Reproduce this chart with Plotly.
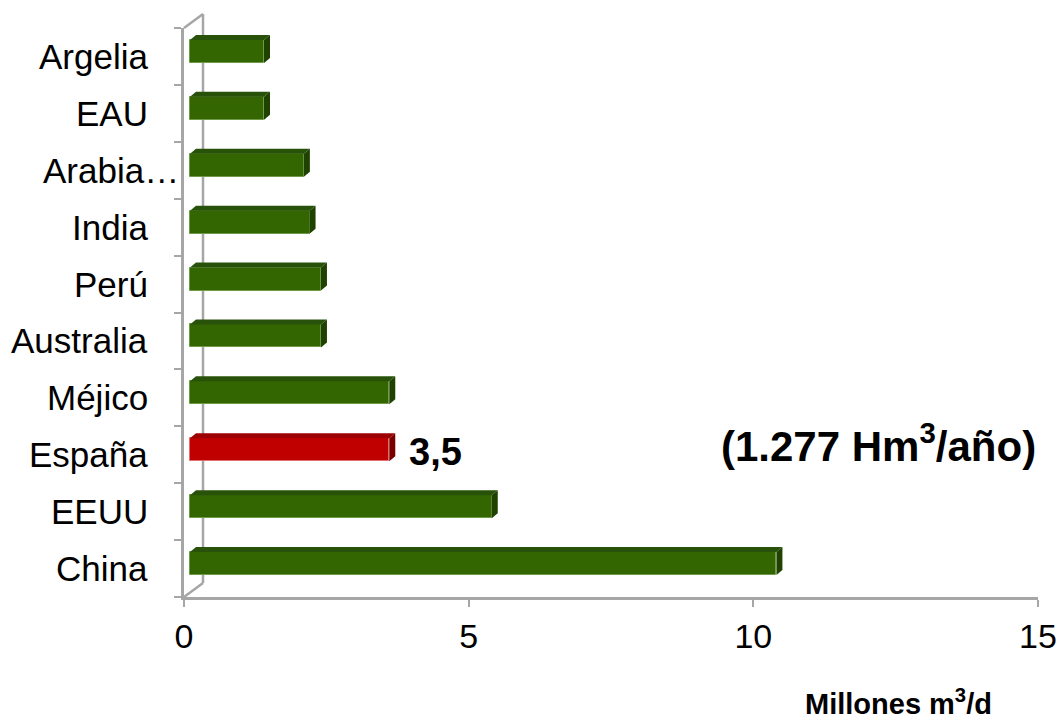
import plotly.graph_objects as go

# Capacidad de desalación instalada por país (millones de m3/día)
paises = ["Argelia", "EAU", "Arabia…", "India", "Perú", "Australia",
          "Méjico", "España", "EEUU", "China"]
capacidad = [1.3, 1.3, 2.0, 2.1, 2.3, 2.3, 3.5, 3.5, 5.3, 10.3]
destacado = "España"
x_ticks = [0, 5, 10, 15]
nota = "(1.277 Hm<sup>3</sup>/año)"
titulo_x = "Millones m<sup>3</sup>/d"

FONT = "Liberation Sans, Arial, sans-serif"
W, H = 1062, 719
M = dict(l=184, r=24, t=28, b=122)
plot_w = W - M["l"] - M["r"]
plot_h = H - M["t"] - M["b"]
n = len(paises)
x_max = x_ticks[-1]
px_x = plot_w / x_max
px_y = plot_h / n

# pseudo-3D geometry in pixels
FRONT_DX, FRONT_DY = 6, 5      # bar front face set back from the axis plane
DEPTH_DX, DEPTH_DY = 6, 5      # bar depth
WALL_DX, WALL_DY = 19, 14      # back wall offset
BAR_H = 23

base = FRONT_DX / px_x
lift = FRONT_DY / px_y
ddx = DEPTH_DX / px_x
ddy = DEPTH_DY / px_y
half = BAR_H / px_y / 2

ypos = [n - 1 - i for i in range(n)]

COL = {
    "green": dict(front="#336600", top="#28520a", side="#1f4200", edge="#6f9a4a"),
    "red": dict(front="#c00000", top="#9c0000", side="#7a0000", edge="#e07070"),
}
pal = [COL["red"] if p == destacado else COL["green"] for p in paises]

fig = go.Figure()

fig.add_trace(go.Bar(
    x=capacidad, y=ypos, base=base, orientation="h",
    width=2 * half, offset=lift - half,
    marker=dict(color=[c["front"] for c in pal],
                line=dict(color=[c["edge"] for c in pal], width=1)),
    hoverinfo="skip", showlegend=False,
))

for v, yc, c in zip(capacidad, ypos, pal):
    x0 = base
    x1 = base + v
    yb = yc + lift - half
    yt = yc + lift + half
    # top face
    fig.add_trace(go.Scatter(
        x=[x0, x1, x1 + ddx, x0 + ddx, x0],
        y=[yt, yt, yt + ddy, yt + ddy, yt],
        mode="lines", fill="toself", fillcolor=c["top"],
        line=dict(width=0), hoverinfo="skip", showlegend=False))
    # right end face
    fig.add_trace(go.Scatter(
        x=[x1, x1 + ddx, x1 + ddx, x1, x1],
        y=[yb, yb + ddy, yt + ddy, yt, yb],
        mode="lines", fill="toself", fillcolor=c["side"],
        line=dict(width=0), hoverinfo="skip", showlegend=False))

# category labels, right-aligned against the axis; truncated names sit closer
for p, yc in zip(paises, ypos):
    right = 181 if p.endswith("…") else 150
    fig.add_annotation(
        x=(right - M["l"]) / plot_w, y=yc, xref="paper", yref="y",
        text=p, showarrow=False, xanchor="right", yanchor="middle",
        font=dict(family=FONT, size=35, color="black"))

# value label on the highlighted bar
i = paises.index(destacado)
fig.add_annotation(
    x=base + capacidad[i], y=ypos[i] + lift, xref="x", yref="y",
    text=f"{capacidad[i]:.1f}".replace(".", ","), showarrow=False,
    xanchor="left", yanchor="middle", xshift=DEPTH_DX + 12, yshift=-2,
    font=dict(family=FONT, size=38, color="black", weight="bold"))

fig.add_annotation(
    x=(878 - M["l"]) / plot_w, y=(H - M["b"] - 443) / plot_h,
    xref="paper", yref="paper", text=nota, showarrow=False,
    xanchor="center", yanchor="middle",
    font=dict(family=FONT, size=42, color="black", weight="bold"))

fig.add_annotation(
    x=(803 - M["l"]) / plot_w, y=(H - M["b"] - 702) / plot_h,
    xref="paper", yref="paper", text=titulo_x, showarrow=False,
    xanchor="left", yanchor="middle",
    font=dict(family=FONT, size=29, color="black", weight="bold"))

# back wall of the 3D frame
wall = dict(color="#a6a6a6", width=2.5)
wx = WALL_DX / plot_w
wy = WALL_DY / plot_h
for x0, y0, x1, y1 in [(wx, wy, wx, 1 + wy), (0, 0, wx, wy), (0, 1, wx, 1 + wy)]:
    fig.add_shape(type="line", xref="x domain", yref="y domain",
                  x0=x0, y0=y0, x1=x1, y1=y1, line=wall, layer="below")

axis_col = "#a6a6a6"
fig.update_xaxes(
    range=[0, x_max], tickvals=x_ticks, ticks="outside", ticklen=7,
    tickwidth=2, tickcolor=axis_col, showline=True, linecolor=axis_col,
    linewidth=2.5, showgrid=False, zeroline=False, automargin=False,
    tickfont=dict(family=FONT, size=34, color="black"))
fig.update_yaxes(
    range=[-0.5, n - 0.5], tickvals=ypos, showticklabels=False, ticks="",
    showline=True, linecolor=axis_col, linewidth=2.5, showgrid=False,
    zeroline=False, automargin=False,
    minor=dict(tickmode="linear", tick0=-0.5, dtick=1, ticks="outside",
               ticklen=7, tickwidth=2, tickcolor=axis_col, showgrid=False))

fig.update_layout(
    width=W, height=H, margin=M, plot_bgcolor="white", paper_bgcolor="white",
    bargap=0, showlegend=False)

fig.write_html("out.html")
